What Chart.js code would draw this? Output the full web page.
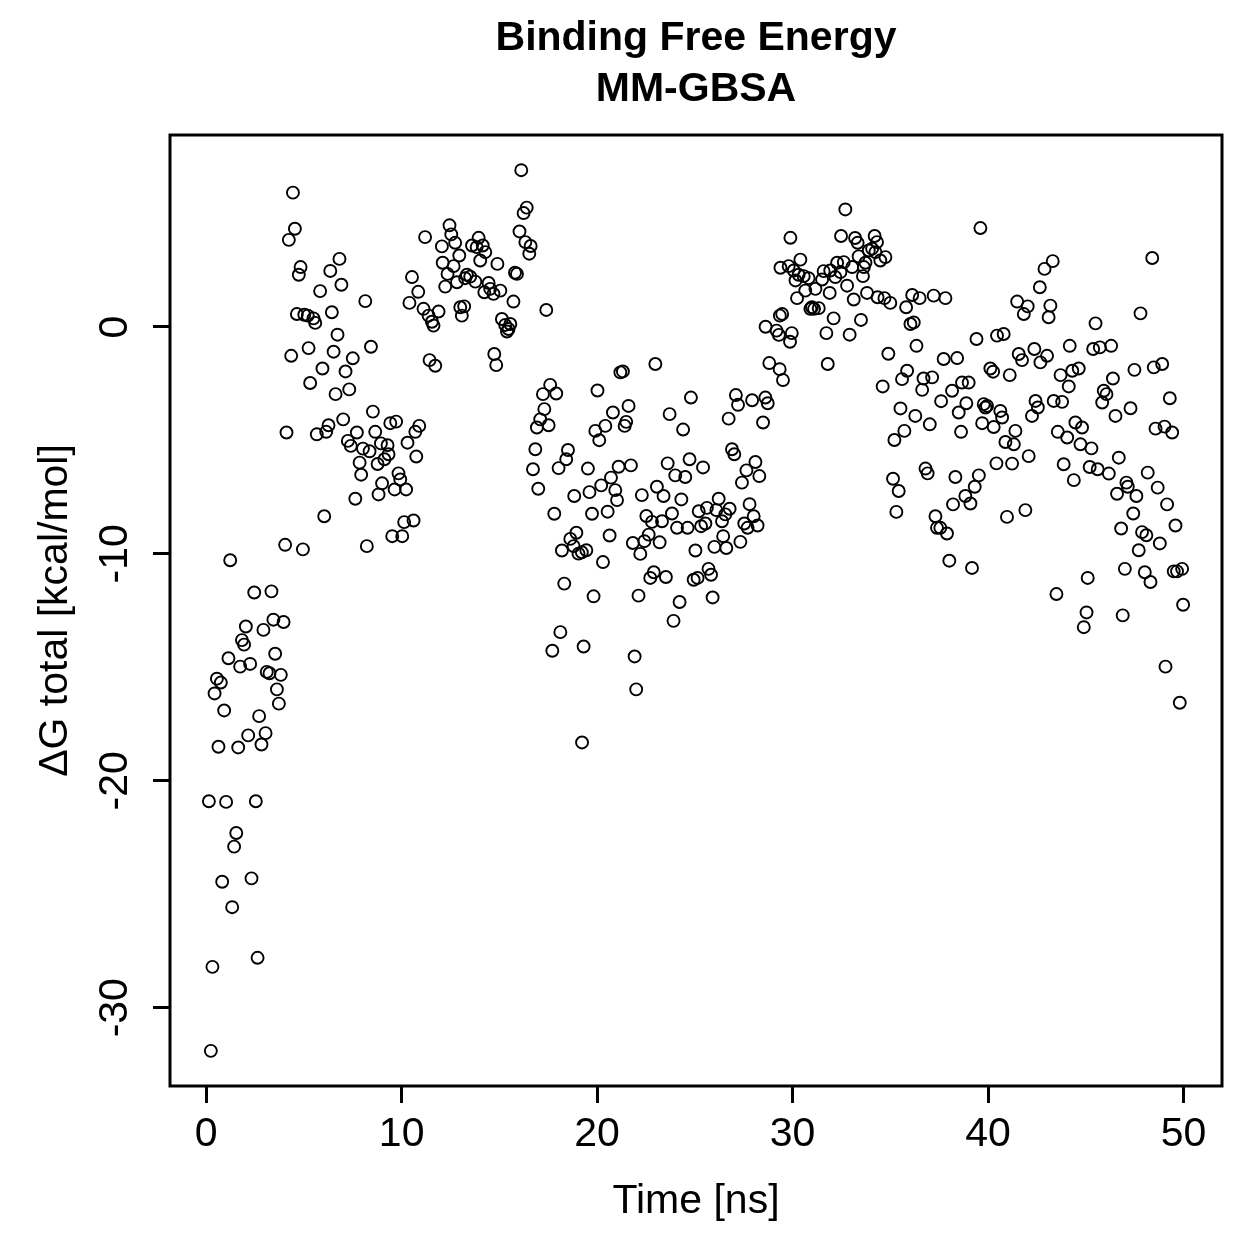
<!DOCTYPE html>
<html>
<head>
<meta charset="utf-8">
<script src="https://cdn.jsdelivr.net/npm/chart.js@4/dist/chart.umd.min.js"></script>
<style>
  html, body { margin: 0; padding: 0; background: #fff; }
  #wrap { width: 1259px; height: 1259px; }
</style>
</head>
<body>
<div id="wrap"><canvas id="chart" width="1259" height="1259"></canvas></div>
<script>
// simulation time (ns) of each frame
const timeNs = [
  0.14, 0.24, 0.32, 0.43, 0.55, 0.63, 0.75, 0.82, 0.92, 1.02,
  1.14, 1.23, 1.33, 1.43, 1.54, 1.64, 1.74, 1.83, 1.94, 2.03,
  2.15, 2.25, 2.32, 2.46, 2.54, 2.63, 2.71, 2.83, 2.93, 3.04,
  3.1, 3.24, 3.34, 3.44, 3.53, 3.62, 3.72, 3.82, 3.96, 4.04,
  4.11, 4.23, 4.35, 4.44, 4.54, 4.64, 4.74, 4.83, 4.95, 5.02,
  5.2, 5.24, 5.32, 5.49, 5.58, 5.66, 5.83, 5.95, 6.04, 6.14,
  6.26, 6.35, 6.43, 6.52, 6.62, 6.72, 6.82, 6.92, 7.01, 7.13,
  7.25, 7.32, 7.4, 7.5, 7.63, 7.71, 7.85, 7.93, 8.02, 8.14,
  8.22, 8.36, 8.43, 8.53, 8.65, 8.77, 8.82, 8.94, 9.0, 9.12,
  9.28, 9.33, 9.42, 9.52, 9.64, 9.72, 9.84, 9.93, 10.03, 10.13,
  10.23, 10.3, 10.4, 10.53, 10.61, 10.7, 10.75, 10.85, 10.9, 11.12,
  11.2, 11.38, 11.43, 11.55, 11.63, 11.72, 11.89, 12.06, 12.1, 12.23,
  12.35, 12.45, 12.54, 12.66, 12.74, 12.83, 12.95, 13.0, 13.08, 13.2,
  13.25, 13.34, 13.51, 13.6, 13.77, 13.84, 13.94, 14.02, 14.15, 14.23,
  14.28, 14.45, 14.53, 14.7, 14.74, 14.84, 14.9, 15.05, 15.13, 15.3,
  15.39, 15.47, 15.56, 15.72, 15.8, 15.9, 16.03, 16.12, 16.24, 16.33,
  16.4, 16.53, 16.6, 16.72, 16.84, 16.92, 16.99, 17.09, 17.23, 17.3,
  17.4, 17.52, 17.6, 17.71, 17.81, 17.91, 18.03, 18.12, 18.2, 18.32,
  18.42, 18.51, 18.63, 18.8, 18.83, 18.94, 19.05, 19.22, 19.23, 19.31,
  19.45, 19.53, 19.61, 19.74, 19.82, 19.91, 20.02, 20.11, 20.21, 20.3,
  20.42, 20.54, 20.64, 20.71, 20.81, 20.93, 21.02, 21.1, 21.19, 21.32,
  21.41, 21.49, 21.61, 21.73, 21.83, 21.92, 22.0, 22.12, 22.21, 22.29,
  22.42, 22.52, 22.64, 22.72, 22.81, 22.9, 22.98, 23.06, 23.2, 23.32,
  23.4, 23.52, 23.61, 23.71, 23.83, 23.91, 24.0, 24.09, 24.22, 24.31,
  24.4, 24.51, 24.63, 24.73, 24.8, 24.94, 25.03, 25.14, 25.2, 25.32,
  25.42, 25.54, 25.62, 25.7, 25.83, 25.91, 26.0, 26.1, 26.22, 26.39,
  26.45, 26.56, 26.61, 26.73, 26.78, 26.9, 27.02, 27.1, 27.21, 27.33,
  27.41, 27.53, 27.64, 27.7, 27.8, 27.93, 28.01, 28.1, 28.21, 28.3,
  28.49, 28.61, 28.62, 28.73, 28.81, 29.18, 29.3, 29.34, 29.35, 29.38,
  29.47, 29.51, 29.8, 29.87, 29.89, 29.96, 30.06, 30.15, 30.23, 30.31,
  30.4, 30.57, 30.65, 30.82, 30.91, 30.99, 31.1, 31.17, 31.34, 31.51,
  31.59, 31.73, 31.8, 31.9, 31.93, 32.1, 32.19, 32.28, 32.45, 32.48,
  32.62, 32.7, 32.79, 32.92, 33.05, 33.13, 33.2, 33.33, 33.38, 33.5,
  33.6, 33.65, 33.73, 33.81, 33.9, 34.07, 34.2, 34.24, 34.32, 34.35,
  34.49, 34.61, 34.7, 34.75, 34.9, 35.0, 35.14, 35.21, 35.31, 35.43,
  35.52, 35.6, 35.72, 35.81, 35.86, 36.03, 36.12, 36.2, 36.28, 36.34,
  36.5, 36.63, 36.7, 36.8, 36.91, 37.02, 37.14, 37.22, 37.31, 37.39,
  37.56, 37.6, 37.73, 37.82, 37.9, 38.02, 38.16, 38.21, 38.33, 38.42,
  38.5, 38.62, 38.67, 38.84, 38.89, 39.01, 39.1, 39.18, 39.32, 39.41,
  39.53, 39.61, 39.7, 39.78, 39.87, 39.95, 40.12, 40.26, 40.29, 40.43,
  40.46, 40.63, 40.72, 40.8, 40.89, 40.97, 41.11, 41.23, 41.32, 41.4,
  41.49, 41.57, 41.74, 41.83, 41.91, 42.03, 42.08, 42.25, 42.37, 42.43,
  42.55, 42.65, 42.68, 42.89, 43.02, 43.1, 43.19, 43.31, 43.36, 43.5,
  43.57, 43.71, 43.79, 43.87, 44.05, 44.13, 44.18, 44.31, 44.39, 44.47,
  44.64, 44.73, 44.81, 44.9, 45.04, 45.1, 45.2, 45.29, 45.38, 45.5,
  45.61, 45.72, 45.84, 45.92, 46.06, 46.18, 46.3, 46.39, 46.52, 46.6,
  46.69, 46.81, 46.89, 47.0, 47.08, 47.15, 47.29, 47.43, 47.49, 47.59,
  47.71, 47.8, 47.88, 48.02, 48.1, 48.17, 48.31, 48.4, 48.48, 48.57,
  48.68, 48.79, 48.91, 49.03, 49.08, 49.16, 49.3, 49.42, 49.5, 49.59,
  49.67, 49.81, 49.93, 49.98
];

// MM-GBSA total binding free energy (kcal/mol), same order as timeNs
const deltaG = [
  -20.9, -31.9, -28.2, -16.15, -15.5, -18.5, -15.67, -24.45, -16.9, -20.93,
  -14.6, -10.28, -25.57, -22.9, -22.3, -18.53, -14.97, -13.8, -14.0, -13.2,
  -18.0, -14.85, -24.3, -11.7, -20.9, -27.8, -17.15, -18.4, -13.35, -17.9,
  -15.2, -15.26, -11.65, -12.9, -14.4, -15.97, -16.6, -15.33, -13.0, -9.6,
  -4.65, 3.84, -1.27, 5.92, 4.33, 0.57, 2.3, 2.64, -9.8, 0.54,
  0.5, -0.93, -2.47, 0.38, 0.18, -4.73, 1.58, -1.83, -8.34, -4.62,
  -4.33, 2.47, 0.65, -1.09, -2.96, -0.34, 3.0, 1.86, -4.07, -1.96,
  -5.02, -2.75, -5.24, -1.38, -7.57, -4.65, -5.98, -6.51, -5.36, 1.14,
  -9.66, -5.48, -0.87, -3.73, -4.62, -6.04, -7.38, -5.13, -6.89, -5.83,
  -5.21, -5.61, -4.24, -9.22, -7.16, -4.17, -6.45, -6.72, -9.22, -8.6,
  -7.16, -5.1, 1.06, 2.2, -8.53, -4.62, -5.71, 1.55, -4.36, 0.8,
  3.96, 0.5, -1.46, 0.23, 0.06, -1.71, 0.68, 3.55, 2.83, 1.78,
  2.34, 4.48, 4.08, 2.68, 3.71, 1.97, 3.15, 0.87, 0.5, 0.91,
  2.15, 2.3, 2.22, 3.59, 2.0, 3.52, 3.93, 2.93, 3.59, 1.53,
  3.3, 1.94, 1.68, 1.46, -1.19, -1.68, 2.78, 1.6, 0.35, 0.09,
  -0.2, -0.09, 0.13, 1.12, 2.39, 2.34, 4.21, 6.91, 5.02, 3.74,
  5.26, 3.23, 3.57, -6.27, -5.39, -4.43, -7.13, -4.07, -2.96, -3.62,
  0.75, -4.33, -2.55, -14.27, -8.23, -2.93, -6.22, -13.45, -9.85, -11.31,
  -5.83, -5.42, -9.34, -9.66, -7.45, -9.07, -9.99, -9.93, -18.31, -14.08,
  -9.84, -6.24, -7.28, -8.23, -11.87, -4.58, -2.8, -4.99, -6.98, -10.36,
  -4.36, -8.14, -9.19, -6.64, -3.77, -7.19, -7.63, -6.16, -2.0, -1.96,
  -4.36, -4.18, -3.48, -6.1, -9.52, -14.52, -15.97, -11.84, -10.0, -7.41,
  -9.44, -8.33, -9.15, -11.06, -8.59, -10.81, -1.63, -7.04, -9.49, -8.56,
  -7.45, -11.02, -6.01, -3.84, -8.22, -12.95, -6.54, -8.85, -12.12, -7.6,
  -4.52, -6.61, -8.85, -5.83, -3.11, -11.14, -9.85, -11.06, -8.12, -8.78,
  -6.19, -8.66, -7.97, -10.66, -10.92, -11.92, -9.69, -8.07, -7.57, -8.56,
  -9.22, -8.26, -9.74, -4.04, -8.01, -5.39, -5.61, -3.0, -3.43, -9.47,
  -6.86, -8.66, -6.32, -8.85, -7.81, -3.23, -8.34, -5.95, -8.75, -6.57,
  -4.21, -3.11, 0.01, -3.36, -1.59, -0.16, -0.35, -1.86, 0.5, 2.61,
  0.57, -2.34, 2.68, -0.65, 3.93, -0.27, 2.49, 2.05, 1.27, 2.3,
  2.97, 2.24, 1.6, 2.15, 0.8, 0.87, 0.8, 1.68, 0.83, 2.09,
  2.46, -0.27, -1.63, 1.5, 2.49, 0.38, 2.2, 2.83, 2.42, 4.01,
  2.86, 5.18, 1.82, -0.34, 2.64, 1.21, 3.92, 3.71, 3.11, 0.31,
  2.24, 2.64, 2.83, 1.5, 3.37, 3.45, 4.01, 3.3, 3.74, 1.31,
  2.93, -2.62, 1.27, 3.08, -1.18, 1.06, -6.69, -4.98, -8.15, -7.23,
  -3.59, -2.3, -4.58, 0.87, -1.93, 0.13, 1.41, 0.2, -3.92, -0.83,
  1.27, -2.77, -2.27, -6.24, -6.45, -4.29, -2.22, 1.38, -8.34, -8.85,
  -8.85, -3.27, -1.41, 1.27, -9.1, -10.3, -2.81, -7.82, -6.61, -1.37,
  -3.77, -4.62, -2.45, -7.45, -3.36, -2.45, -7.78, -10.62, -7.04, -0.53,
  -6.54, 4.36, -4.24, -3.4, -3.55, -3.48, -1.83, -1.97, -4.41, -6.01,
  -0.38, -3.7, -3.99, -0.31, -5.07, -8.37, -2.12, -6.02, -5.17, -4.58,
  1.12, -1.19, -1.46, 0.57, -8.07, 0.91, -5.69, -3.92, -0.97, -3.26,
  -3.55, 1.75, -1.56, 2.56, -1.27, 0.43, 0.94, 2.9, -3.26, -11.77,
  -4.62, -2.12, -3.3, -6.05, -4.87, -2.62, -0.83, -1.93, -6.75, -4.21,
  -1.83, -5.17, -4.43, -13.23, -12.58, -11.06, -6.17, -5.35, -0.97, 0.16,
  -6.27, -0.9, -3.33, -2.81, -2.96, -6.46, -0.83, -2.27, -3.92, -7.35,
  -5.76, -8.88, -12.71, -10.66, -6.86, -7.04, -3.58, -8.22, -1.89, -7.45,
  -9.84, 0.6, -9.04, -10.81, -9.18, -6.42, -11.24, 3.04, -1.78, -4.48,
  -7.08, -9.54, -1.63, -4.39, -14.97, -7.82, -3.14, -4.65, -10.77, -8.75,
  -10.77, -16.56, -10.66, -12.24
];

const xTicks = [0, 10, 20, 30, 40, 50];
const yTicks = [-30, -20, -10, 0];
const titleLines = ['Binding Free Energy', 'MM-GBSA'];
const xLabel = 'Time [ns]';
const yLabel = 'ΔG total [kcal/mol]';

const FONT = "'Liberation Sans', Arial, Helvetica, sans-serif";

// R-style box around the plot region
const boxPlugin = {
  id: 'box',
  afterDraw(chart) {
    const { ctx, chartArea: a } = chart;
    ctx.save();
    ctx.strokeStyle = '#000';
    ctx.lineWidth = 3;
    ctx.strokeRect(a.left, a.top, a.right - a.left, a.bottom - a.top);
    ctx.restore();
  }
};

const points = timeNs.map((t, i) => ({ x: t, y: deltaG[i] }));

new Chart(document.getElementById('chart'), {
  type: 'scatter',
  data: {
    datasets: [{
      data: points,
      pointStyle: 'circle',
      pointRadius: 6,
      pointBorderWidth: 1.9,
      pointBorderColor: '#000',
      pointBackgroundColor: 'rgba(0,0,0,0)',
      clip: false
    }]
  },
  options: {
    responsive: false,
    devicePixelRatio: 1,
    animation: false,
    events: [],
    layout: { padding: { top: 0, right: 37, bottom: 0, left: 0 } },
    plugins: {
      legend: { display: false },
      tooltip: { enabled: false },
      title: {
        display: true,
        fullSize: false,
        text: titleLines,
        color: '#000',
        font: { family: FONT, size: 41, weight: 'bold', lineHeight: 1.244 },
        padding: { top: 13, bottom: 20 }
      }
    },
    scales: {
      x: {
        type: 'linear',
        min: -1.85,
        max: 51.97,
        afterBuildTicks: (s) => { s.ticks = xTicks.map(v => ({ value: v })); },
        afterFit: (s) => { s.height = 173; },
        grid: { drawOnChartArea: false, drawTicks: true, tickLength: 17, tickWidth: 3, tickColor: '#000' },
        border: { display: false },
        ticks: {
          autoSkip: false,
          maxRotation: 0,
          color: '#000',
          padding: 7,
          font: { family: FONT, size: 41 },
          callback: (v) => String(v)
        },
        title: {
          display: true,
          text: xLabel,
          color: '#000',
          font: { family: FONT, size: 41 },
          padding: { top: 0, bottom: 33 }
        }
      },
      y: {
        type: 'linear',
        min: -33.45,
        max: 8.46,
        afterBuildTicks: (s) => { s.ticks = yTicks.map(v => ({ value: v })); },
        afterFit: (s) => { s.width = 170; },
        grid: { drawOnChartArea: false, drawTicks: true, tickLength: 17, tickWidth: 3, tickColor: '#000' },
        border: { display: false },
        ticks: {
          autoSkip: false,
          minRotation: 90,
          maxRotation: 90,
          crossAlign: 'center',
          color: '#000',
          padding: 8,
          font: { family: FONT, size: 41 },
          callback: (v) => String(v)
        },
        title: {
          display: true,
          text: yLabel,
          color: '#000',
          font: { family: FONT, size: 41 },
          padding: { top: 31, bottom: 0 }
        }
      }
    }
  },
  plugins: [boxPlugin]
});
</script>
</body>
</html>
